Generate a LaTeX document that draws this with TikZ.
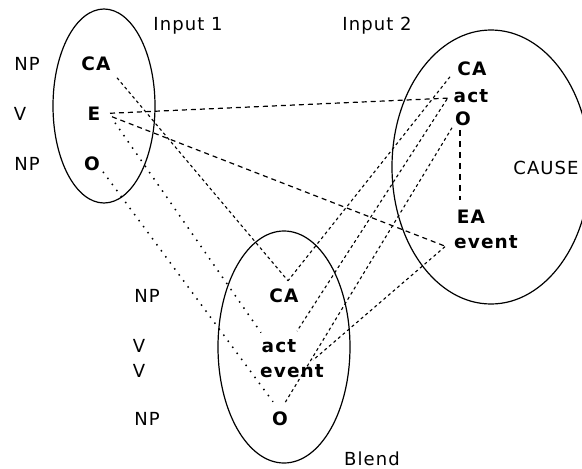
\documentclass[tikz,border=0pt]{standalone}
\usepackage{fontspec}
\setmainfont{DejaVu Sans}[LetterSpace=6]
\usetikzlibrary{calc}
\begin{document}
\begin{tikzpicture}[x=1pt,y=-1pt,
  lab/.style={anchor=base,inner sep=0pt,font=\fontsize{18}{18}\selectfont},
  el/.style={anchor=base,inner sep=0pt,font=\fontsize{18.5}{18.5}\selectfont\bfseries},
  ring/.style={draw,line width=1.2pt},
  dsh/.style={line width=1.2pt,dash pattern=on 5pt off 4pt},
  fdsh/.style={line width=1.1pt,dash pattern=on 3pt off 3pt},
  dots/.style={line width=1.5pt,dash pattern=on 1.5pt off 6pt},
  vdsh/.style={line width=1.2pt,dash pattern=on 6pt off 5pt}]
\fill[white] (0,0) rectangle (582,469);
\useasboundingbox (0,0) rectangle (582,469);
\begin{scope}
\clip (0,0) rectangle (582,469);
% spaces
\draw[ring] (104,106) ellipse [x radius=51pt, y radius=97pt];
\draw[ring] (491,167) ellipse [x radius=99pt, y radius=137pt];
\draw[ring] (284,347) ellipse [x radius=66pt, y radius=116pt];
\end{scope}
% titles
\node[lab] (t1) at (188,30) {Input 1};
\node[lab] (t2) at (377,30) {Input 2};
\node[lab] (tc) at (546,174) {CAUSE};
\node[lab] (tb) at (372,465) {Blend};
% syntax labels
\node[lab] (np1) at (27,70) {NP};
\node[lab] (v1) at (20,120) {V};
\node[lab] (np2) at (27,170) {NP};
\node[lab] (np3) at (147,302) {NP};
\node[lab] (v2) at (139,352) {V};
\node[lab] (v3) at (139,377) {V};
\node[lab] (np4) at (147,425) {NP};
% input 1
\node[el] (CA1) at (96,70) {CA};
\node[el] (E1) at (94,120) {E};
\node[el] (O1) at (92,170) {O};
% input 2
\node[el] (CA2) at (472,75) {CA};
\node[el] (act2) at (471,102) {act};
\node[el] (O2) at (463,125) {O};
\node[el] (EA2) at (471,223) {EA};
\node[el] (ev2) at (486,248) {event};
% blend
\node[el] (CAb) at (284,302) {CA};
\node[el] (actb) at (279,352) {act};
\node[el] (evb) at (292,377) {event};
\node[el] (Ob) at (280,425) {O};
% connectors from input 1
\draw[fdsh] ($(CA1)+(21,14.5)$) -- ($(CAb)+(4,-14.5)$);
\draw[dsh] ($(E1)+(16,0)$) -- ($(act2)+(-23,2.5)$);
\draw[dsh] ($(E1)+(18,3.5)$) -- ($(ev2)+(-41,4.5)$);
\draw[dots] ($(E1)+(21,9.5)$) -- ($(actb)+(-18,-13)$);
\draw[dots] ($(O1)+(11,8.5)$) -- ($(Ob)+(-7,-16.5)$);
% connectors from input 2
\draw[fdsh] ($(CA2)+(-22,8.5)$) -- ($(CAb)+(4,-14.5)$);
\draw[fdsh] ($(act2)+(-24,3.5)$) -- ($(actb)+(18,-14.5)$);
\draw[fdsh] ($(O2)+(-11,9.5)$) -- ($(Ob)+(5,-15.5)$);
\draw[fdsh] ($(ev2)+(-41,5)$) -- ($(evb)+(21,-10.5)$);
\draw[vdsh] ($(O2)+(-3,11.5)$) -- ($(EA2)+(-11,-16.5)$);
\end{tikzpicture}
\end{document}
